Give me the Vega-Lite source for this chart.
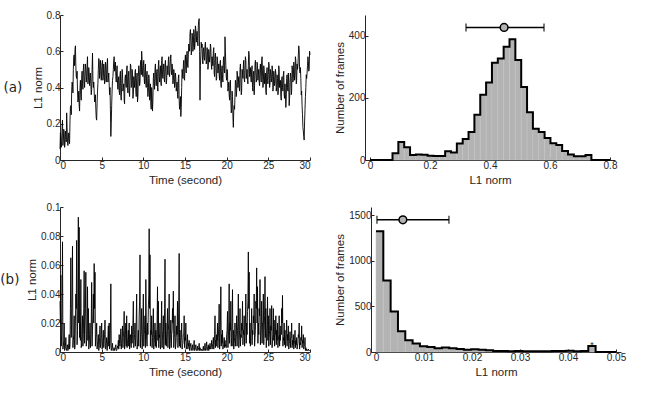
{
"$schema": "https://vega.github.io/schema/vega-lite/v6.json",
"usermeta": {"embedOptions": {"actions": false}},
"background": "white",
"padding": {"left": 0, "top": 10, "right": 5, "bottom": 0},
"config": {
  "view": {"stroke": null},
  "axis": {"labelFont": "Liberation Sans", "labelFontSize": 10, "labelColor": "#262626", "titleFont": "Liberation Sans", "titleFontSize": 11.5, "titleFontWeight": "normal", "titleColor": "#262626", "domainColor": "#262626", "tickColor": "#262626", "tickSize": -3, "labelPadding": 3, "grid": false},
  "axisX": {"titlePadding": 4},
  "axisY": {"titlePadding": 3}
},
"datasets": {
  "tsA": [
{"t":0.0,"v":0.06},{"t":0.1,"v":0.12},{"t":0.2,"v":0.10},{"t":0.3,"v":0.22},{"t":0.4,"v":0.11},{"t":0.5,"v":0.15},{"t":0.6,"v":0.09},{"t":0.7,"v":0.13},{"t":0.8,"v":0.26},{"t":0.9,"v":0.10},
{"t":1.0,"v":0.12},{"t":1.1,"v":0.10},{"t":1.2,"v":0.22},{"t":1.3,"v":0.30},{"t":1.4,"v":0.38},{"t":1.5,"v":0.42},{"t":1.6,"v":0.50},{"t":1.7,"v":0.58},{"t":1.8,"v":0.61},{"t":1.9,"v":0.52},
{"t":2.0,"v":0.45},{"t":2.1,"v":0.38},{"t":2.2,"v":0.33},{"t":2.3,"v":0.30},{"t":2.4,"v":0.40},{"t":2.5,"v":0.36},{"t":2.6,"v":0.45},{"t":2.7,"v":0.42},{"t":2.8,"v":0.50},{"t":2.9,"v":0.44},
{"t":3.0,"v":0.47},{"t":3.1,"v":0.50},{"t":3.2,"v":0.46},{"t":3.3,"v":0.57},{"t":3.4,"v":0.44},{"t":3.5,"v":0.48},{"t":3.6,"v":0.45},{"t":3.7,"v":0.42},{"t":3.8,"v":0.39},{"t":3.9,"v":0.59},
{"t":4.0,"v":0.40},{"t":4.1,"v":0.38},{"t":4.2,"v":0.33},{"t":4.3,"v":0.28},{"t":4.4,"v":0.22},{"t":4.5,"v":0.38},{"t":4.6,"v":0.50},{"t":4.7,"v":0.55},{"t":4.8,"v":0.47},{"t":4.9,"v":0.52},
{"t":5.0,"v":0.48},{"t":5.1,"v":0.55},{"t":5.2,"v":0.46},{"t":5.3,"v":0.50},{"t":5.4,"v":0.44},{"t":5.5,"v":0.52},{"t":5.6,"v":0.47},{"t":5.7,"v":0.56},{"t":5.8,"v":0.45},{"t":5.9,"v":0.42},
{"t":6.0,"v":0.40},{"t":6.1,"v":0.13},{"t":6.2,"v":0.30},{"t":6.3,"v":0.44},{"t":6.4,"v":0.50},{"t":6.5,"v":0.57},{"t":6.6,"v":0.51},{"t":6.7,"v":0.46},{"t":6.8,"v":0.49},{"t":6.9,"v":0.42},
{"t":7.0,"v":0.44},{"t":7.1,"v":0.38},{"t":7.2,"v":0.47},{"t":7.3,"v":0.35},{"t":7.4,"v":0.42},{"t":7.5,"v":0.48},{"t":7.6,"v":0.40},{"t":7.7,"v":0.33},{"t":7.8,"v":0.45},{"t":7.9,"v":0.42},
{"t":8.0,"v":0.50},{"t":8.1,"v":0.40},{"t":8.2,"v":0.46},{"t":8.3,"v":0.38},{"t":8.4,"v":0.44},{"t":8.5,"v":0.52},{"t":8.6,"v":0.41},{"t":8.7,"v":0.47},{"t":8.8,"v":0.36},{"t":8.9,"v":0.43},
{"t":9.0,"v":0.48},{"t":9.1,"v":0.38},{"t":9.2,"v":0.45},{"t":9.3,"v":0.32},{"t":9.4,"v":0.46},{"t":9.5,"v":0.50},{"t":9.6,"v":0.43},{"t":9.7,"v":0.55},{"t":9.8,"v":0.60},{"t":9.9,"v":0.48},
{"t":10.0,"v":0.52},{"t":10.1,"v":0.45},{"t":10.2,"v":0.50},{"t":10.3,"v":0.42},{"t":10.4,"v":0.47},{"t":10.5,"v":0.40},{"t":10.6,"v":0.38},{"t":10.7,"v":0.45},{"t":10.8,"v":0.35},{"t":10.9,"v":0.30},
{"t":11.0,"v":0.40},{"t":11.1,"v":0.27},{"t":11.2,"v":0.45},{"t":11.3,"v":0.42},{"t":11.4,"v":0.50},{"t":11.5,"v":0.44},{"t":11.6,"v":0.48},{"t":11.7,"v":0.40},{"t":11.8,"v":0.52},{"t":11.9,"v":0.46},
{"t":12.0,"v":0.49},{"t":12.1,"v":0.43},{"t":12.2,"v":0.55},{"t":12.3,"v":0.47},{"t":12.4,"v":0.50},{"t":12.5,"v":0.45},{"t":12.6,"v":0.52},{"t":12.7,"v":0.48},{"t":12.8,"v":0.44},{"t":12.9,"v":0.50},
{"t":13.0,"v":0.55},{"t":13.1,"v":0.48},{"t":13.2,"v":0.52},{"t":13.3,"v":0.58},{"t":13.4,"v":0.47},{"t":13.5,"v":0.50},{"t":13.6,"v":0.44},{"t":13.7,"v":0.48},{"t":13.8,"v":0.42},{"t":13.9,"v":0.45},
{"t":14.0,"v":0.40},{"t":14.1,"v":0.36},{"t":14.2,"v":0.45},{"t":14.3,"v":0.33},{"t":14.4,"v":0.30},{"t":14.5,"v":0.24},{"t":14.6,"v":0.40},{"t":14.7,"v":0.48},{"t":14.8,"v":0.52},{"t":14.9,"v":0.45},
{"t":15.0,"v":0.55},{"t":15.1,"v":0.50},{"t":15.2,"v":0.57},{"t":15.3,"v":0.53},{"t":15.4,"v":0.58},{"t":15.5,"v":0.62},{"t":15.6,"v":0.70},{"t":15.7,"v":0.66},{"t":15.8,"v":0.60},{"t":15.9,"v":0.68},
{"t":16.0,"v":0.62},{"t":16.1,"v":0.70},{"t":16.2,"v":0.64},{"t":16.3,"v":0.72},{"t":16.4,"v":0.68},{"t":16.5,"v":0.66},{"t":16.6,"v":0.74},{"t":16.7,"v":0.78},{"t":16.8,"v":0.33},{"t":16.9,"v":0.58},
{"t":17.0,"v":0.62},{"t":17.1,"v":0.55},{"t":17.2,"v":0.60},{"t":17.3,"v":0.57},{"t":17.4,"v":0.63},{"t":17.5,"v":0.58},{"t":17.6,"v":0.55},{"t":17.7,"v":0.60},{"t":17.8,"v":0.52},{"t":17.9,"v":0.58},
{"t":18.0,"v":0.57},{"t":18.1,"v":0.62},{"t":18.2,"v":0.50},{"t":18.3,"v":0.55},{"t":18.4,"v":0.60},{"t":18.5,"v":0.48},{"t":18.6,"v":0.57},{"t":18.7,"v":0.52},{"t":18.8,"v":0.45},{"t":18.9,"v":0.55},
{"t":19.0,"v":0.50},{"t":19.1,"v":0.47},{"t":19.2,"v":0.53},{"t":19.3,"v":0.42},{"t":19.4,"v":0.49},{"t":19.5,"v":0.45},{"t":19.6,"v":0.55},{"t":19.7,"v":0.50},{"t":19.8,"v":0.68},{"t":19.9,"v":0.52},
{"t":20.0,"v":0.44},{"t":20.1,"v":0.48},{"t":20.2,"v":0.40},{"t":20.3,"v":0.36},{"t":20.4,"v":0.42},{"t":20.5,"v":0.33},{"t":20.6,"v":0.28},{"t":20.7,"v":0.35},{"t":20.8,"v":0.18},{"t":20.9,"v":0.30},
{"t":21.0,"v":0.36},{"t":21.1,"v":0.42},{"t":21.2,"v":0.38},{"t":21.3,"v":0.47},{"t":21.4,"v":0.43},{"t":21.5,"v":0.40},{"t":21.6,"v":0.50},{"t":21.7,"v":0.45},{"t":21.8,"v":0.38},{"t":21.9,"v":0.48},
{"t":22.0,"v":0.52},{"t":22.1,"v":0.45},{"t":22.2,"v":0.50},{"t":22.3,"v":0.55},{"t":22.4,"v":0.47},{"t":22.5,"v":0.44},{"t":22.6,"v":0.52},{"t":22.7,"v":0.58},{"t":22.8,"v":0.48},{"t":22.9,"v":0.45},
{"t":23.0,"v":0.50},{"t":23.1,"v":0.40},{"t":23.2,"v":0.47},{"t":23.3,"v":0.36},{"t":23.4,"v":0.53},{"t":23.5,"v":0.48},{"t":23.6,"v":0.45},{"t":23.7,"v":0.52},{"t":23.8,"v":0.47},{"t":23.9,"v":0.43},
{"t":24.0,"v":0.50},{"t":24.1,"v":0.46},{"t":24.2,"v":0.55},{"t":24.3,"v":0.48},{"t":24.4,"v":0.42},{"t":24.5,"v":0.50},{"t":24.6,"v":0.45},{"t":24.7,"v":0.38},{"t":24.8,"v":0.48},{"t":24.9,"v":0.44},
{"t":25.0,"v":0.47},{"t":25.1,"v":0.52},{"t":25.2,"v":0.42},{"t":25.3,"v":0.48},{"t":25.4,"v":0.45},{"t":25.5,"v":0.50},{"t":25.6,"v":0.40},{"t":25.7,"v":0.46},{"t":25.8,"v":0.43},{"t":25.9,"v":0.48},
{"t":26.0,"v":0.40},{"t":26.1,"v":0.45},{"t":26.2,"v":0.38},{"t":26.3,"v":0.50},{"t":26.4,"v":0.42},{"t":26.5,"v":0.35},{"t":26.6,"v":0.44},{"t":26.7,"v":0.40},{"t":26.8,"v":0.47},{"t":26.9,"v":0.36},
{"t":27.0,"v":0.42},{"t":27.1,"v":0.29},{"t":27.2,"v":0.45},{"t":27.3,"v":0.40},{"t":27.4,"v":0.48},{"t":27.5,"v":0.30},{"t":27.6,"v":0.43},{"t":27.7,"v":0.46},{"t":27.8,"v":0.38},{"t":27.9,"v":0.50},
{"t":28.0,"v":0.45},{"t":28.1,"v":0.52},{"t":28.2,"v":0.47},{"t":28.3,"v":0.55},{"t":28.4,"v":0.44},{"t":28.5,"v":0.50},{"t":28.6,"v":0.58},{"t":28.7,"v":0.61},{"t":28.8,"v":0.48},{"t":28.9,"v":0.45},
{"t":29.0,"v":0.38},{"t":29.1,"v":0.25},{"t":29.2,"v":0.16},{"t":29.3,"v":0.11},{"t":29.4,"v":0.28},{"t":29.5,"v":0.40},{"t":29.6,"v":0.45},{"t":29.7,"v":0.52},{"t":29.8,"v":0.55},{"t":29.9,"v":0.50},
{"t":30.0,"v":0.58},
{"t":0.05,"v":0.15},{"t":0.15,"v":0.07},{"t":0.25,"v":0.18},{"t":0.35,"v":0.08},{"t":0.45,"v":0.17},{"t":0.55,"v":0.07},{"t":0.65,"v":0.16},{"t":0.75,"v":0.10},{"t":0.85,"v":0.18},{"t":0.95,"v":0.08},
{"t":1.05,"v":0.15},{"t":1.15,"v":0.09},{"t":1.25,"v":0.29},{"t":1.35,"v":0.25},{"t":1.45,"v":0.43},{"t":1.55,"v":0.37},{"t":1.65,"v":0.57},{"t":1.75,"v":0.52},{"t":1.85,"v":0.63},{"t":1.95,"v":0.46},
{"t":2.05,"v":0.49},{"t":2.15,"v":0.32},{"t":2.25,"v":0.38},{"t":2.35,"v":0.27},{"t":2.45,"v":0.44},{"t":2.55,"v":0.33},{"t":2.65,"v":0.49},{"t":2.75,"v":0.39},{"t":2.85,"v":0.53},{"t":2.95,"v":0.40},
{"t":3.05,"v":0.53},{"t":3.15,"v":0.43},{"t":3.25,"v":0.52},{"t":3.35,"v":0.42},{"t":3.45,"v":0.51},{"t":3.55,"v":0.41},{"t":3.65,"v":0.48},{"t":3.75,"v":0.36},{"t":3.85,"v":0.50},{"t":3.95,"v":0.44},
{"t":4.05,"v":0.43},{"t":4.15,"v":0.32},{"t":4.25,"v":0.36},{"t":4.35,"v":0.23},{"t":4.45,"v":0.31},{"t":4.55,"v":0.42},{"t":4.65,"v":0.56},{"t":4.75,"v":0.45},{"t":4.85,"v":0.55},{"t":4.95,"v":0.44},
{"t":5.05,"v":0.53},{"t":5.15,"v":0.44},{"t":5.25,"v":0.53},{"t":5.35,"v":0.42},{"t":5.45,"v":0.54},{"t":5.55,"v":0.43},{"t":5.65,"v":0.53},{"t":5.75,"v":0.43},{"t":5.85,"v":0.48},{"t":5.95,"v":0.36},
{"t":6.05,"v":0.28},{"t":6.15,"v":0.20},{"t":6.25,"v":0.38},{"t":6.35,"v":0.46},{"t":6.45,"v":0.55},{"t":6.55,"v":0.49},{"t":6.65,"v":0.54},{"t":6.75,"v":0.43},{"t":6.85,"v":0.52},{"t":6.95,"v":0.39},
{"t":7.05,"v":0.46},{"t":7.15,"v":0.36},{"t":7.25,"v":0.49},{"t":7.35,"v":0.33},{"t":7.45,"v":0.50},{"t":7.55,"v":0.38},{"t":7.65,"v":0.42},{"t":7.75,"v":0.31},{"t":7.85,"v":0.47},{"t":7.95,"v":0.40},
{"t":8.05,"v":0.52},{"t":8.15,"v":0.37},{"t":8.25,"v":0.49},{"t":8.35,"v":0.35},{"t":8.45,"v":0.53},{"t":8.55,"v":0.40},{"t":8.65,"v":0.50},{"t":8.75,"v":0.34},{"t":8.85,"v":0.46},{"t":8.95,"v":0.40},
{"t":9.05,"v":0.50},{"t":9.15,"v":0.35},{"t":9.25,"v":0.48},{"t":9.35,"v":0.35},{"t":9.45,"v":0.52},{"t":9.55,"v":0.41},{"t":9.65,"v":0.53},{"t":9.75,"v":0.47},{"t":9.85,"v":0.55},{"t":9.95,"v":0.46},
{"t":10.05,"v":0.55},{"t":10.15,"v":0.42},{"t":10.25,"v":0.53},{"t":10.35,"v":0.40},{"t":10.45,"v":0.49},{"t":10.55,"v":0.35},{"t":10.65,"v":0.47},{"t":10.75,"v":0.33},{"t":10.85,"v":0.42},{"t":10.95,"v":0.28},
{"t":11.05,"v":0.35},{"t":11.15,"v":0.33},{"t":11.25,"v":0.48},{"t":11.35,"v":0.39},{"t":11.45,"v":0.53},{"t":11.55,"v":0.41},{"t":11.65,"v":0.50},{"t":11.75,"v":0.38},{"t":11.85,"v":0.55},{"t":11.95,"v":0.43},
{"t":12.05,"v":0.52},{"t":12.15,"v":0.41},{"t":12.25,"v":0.57},{"t":12.35,"v":0.45},{"t":12.45,"v":0.53},{"t":12.55,"v":0.43},{"t":12.65,"v":0.55},{"t":12.75,"v":0.42},{"t":12.85,"v":0.52},{"t":12.95,"v":0.47},
{"t":13.05,"v":0.57},{"t":13.15,"v":0.46},{"t":13.25,"v":0.56},{"t":13.35,"v":0.49},{"t":13.45,"v":0.53},{"t":13.55,"v":0.42},{"t":13.65,"v":0.50},{"t":13.75,"v":0.40},{"t":13.85,"v":0.48},{"t":13.95,"v":0.38},
{"t":14.05,"v":0.43},{"t":14.15,"v":0.34},{"t":14.25,"v":0.47},{"t":14.35,"v":0.28},{"t":14.45,"v":0.35},{"t":14.55,"v":0.29},{"t":14.65,"v":0.50},{"t":14.75,"v":0.45},{"t":14.85,"v":0.55},{"t":14.95,"v":0.44},
{"t":15.05,"v":0.58},{"t":15.15,"v":0.48},{"t":15.25,"v":0.60},{"t":15.35,"v":0.51},{"t":15.45,"v":0.64},{"t":15.55,"v":0.60},{"t":15.65,"v":0.72},{"t":15.75,"v":0.58},{"t":15.85,"v":0.70},{"t":15.95,"v":0.60},
{"t":16.05,"v":0.72},{"t":16.15,"v":0.61},{"t":16.25,"v":0.74},{"t":16.35,"v":0.65},{"t":16.45,"v":0.71},{"t":16.55,"v":0.63},{"t":16.65,"v":0.77},{"t":16.75,"v":0.60},{"t":16.85,"v":0.52},{"t":16.95,"v":0.65},
{"t":17.05,"v":0.64},{"t":17.15,"v":0.53},{"t":17.25,"v":0.62},{"t":17.35,"v":0.55},{"t":17.45,"v":0.65},{"t":17.55,"v":0.53},{"t":17.65,"v":0.62},{"t":17.75,"v":0.50},{"t":17.85,"v":0.61},{"t":17.95,"v":0.54},
{"t":18.05,"v":0.64},{"t":18.15,"v":0.53},{"t":18.25,"v":0.57},{"t":18.35,"v":0.52},{"t":18.45,"v":0.62},{"t":18.55,"v":0.46},{"t":18.65,"v":0.59},{"t":18.75,"v":0.44},{"t":18.85,"v":0.57},{"t":18.95,"v":0.48},
{"t":19.05,"v":0.53},{"t":19.15,"v":0.44},{"t":19.25,"v":0.55},{"t":19.35,"v":0.40},{"t":19.45,"v":0.52},{"t":19.55,"v":0.43},{"t":19.65,"v":0.57},{"t":19.75,"v":0.48},{"t":19.85,"v":0.60},{"t":19.95,"v":0.46},
{"t":20.05,"v":0.50},{"t":20.15,"v":0.38},{"t":20.25,"v":0.43},{"t":20.35,"v":0.33},{"t":20.45,"v":0.44},{"t":20.55,"v":0.26},{"t":20.65,"v":0.38},{"t":20.75,"v":0.24},{"t":20.85,"v":0.27},{"t":20.95,"v":0.28},
{"t":21.05,"v":0.44},{"t":21.15,"v":0.35},{"t":21.25,"v":0.49},{"t":21.35,"v":0.40},{"t":21.45,"v":0.46},{"t":21.55,"v":0.38},{"t":21.65,"v":0.53},{"t":21.75,"v":0.36},{"t":21.85,"v":0.50},{"t":21.95,"v":0.45},
{"t":22.05,"v":0.55},{"t":22.15,"v":0.43},{"t":22.25,"v":0.57},{"t":22.35,"v":0.45},{"t":22.45,"v":0.50},{"t":22.55,"v":0.42},{"t":22.65,"v":0.60},{"t":22.75,"v":0.46},{"t":22.85,"v":0.51},{"t":22.95,"v":0.43},
{"t":23.05,"v":0.52},{"t":23.15,"v":0.38},{"t":23.25,"v":0.49},{"t":23.35,"v":0.41},{"t":23.45,"v":0.55},{"t":23.55,"v":0.43},{"t":23.65,"v":0.54},{"t":23.75,"v":0.44},{"t":23.85,"v":0.50},{"t":23.95,"v":0.41},
{"t":24.05,"v":0.53},{"t":24.15,"v":0.43},{"t":24.25,"v":0.57},{"t":24.35,"v":0.40},{"t":24.45,"v":0.52},{"t":24.55,"v":0.42},{"t":24.65,"v":0.48},{"t":24.75,"v":0.36},{"t":24.85,"v":0.51},{"t":24.95,"v":0.42},
{"t":25.05,"v":0.54},{"t":25.15,"v":0.40},{"t":25.25,"v":0.50},{"t":25.35,"v":0.43},{"t":25.45,"v":0.52},{"t":25.55,"v":0.38},{"t":25.65,"v":0.49},{"t":25.75,"v":0.41},{"t":25.85,"v":0.50},{"t":25.95,"v":0.38},
{"t":26.05,"v":0.47},{"t":26.15,"v":0.36},{"t":26.25,"v":0.52},{"t":26.35,"v":0.40},{"t":26.45,"v":0.44},{"t":26.55,"v":0.33},{"t":26.65,"v":0.46},{"t":26.75,"v":0.38},{"t":26.85,"v":0.49},{"t":26.95,"v":0.34},
{"t":27.05,"v":0.36},{"t":27.15,"v":0.34},{"t":27.25,"v":0.47},{"t":27.35,"v":0.38},{"t":27.45,"v":0.42},{"t":27.55,"v":0.34},{"t":27.65,"v":0.48},{"t":27.75,"v":0.36},{"t":27.85,"v":0.52},{"t":27.95,"v":0.43},
{"t":28.05,"v":0.54},{"t":28.15,"v":0.44},{"t":28.25,"v":0.57},{"t":28.35,"v":0.42},{"t":28.45,"v":0.53},{"t":28.55,"v":0.52},{"t":28.65,"v":0.63},{"t":28.75,"v":0.50},{"t":28.85,"v":0.51},{"t":28.95,"v":0.36},
{"t":29.05,"v":0.30},{"t":29.15,"v":0.18},{"t":29.25,"v":0.13},{"t":29.35,"v":0.21},{"t":29.45,"v":0.35},{"t":29.55,"v":0.47},{"t":29.65,"v":0.48},{"t":29.75,"v":0.57},{"t":29.85,"v":0.49},{"t":29.95,"v":0.60}
  ],
  "tsB": [
{"t":0.0,"v":0.035},{"t":0.1,"v":0.053},{"t":0.2,"v":0.012},{"t":0.3,"v":0.076},{"t":0.4,"v":0.004},{"t":0.5,"v":0.02},{"t":0.6,"v":0.002},{"t":0.7,"v":0.01},{"t":0.8,"v":0.001},{"t":0.9,"v":0.005},
{"t":1.0,"v":0.002},{"t":1.1,"v":0.012},{"t":1.2,"v":0.004},{"t":1.3,"v":0.065},{"t":1.4,"v":0.02},{"t":1.5,"v":0.073},{"t":1.6,"v":0.008},{"t":1.7,"v":0.025},{"t":1.8,"v":0.003},{"t":1.9,"v":0.04},
{"t":2.0,"v":0.077},{"t":2.1,"v":0.015},{"t":2.2,"v":0.093},{"t":2.3,"v":0.086},{"t":2.4,"v":0.02},{"t":2.5,"v":0.05},{"t":2.6,"v":0.006},{"t":2.7,"v":0.025},{"t":2.8,"v":0.012},{"t":2.9,"v":0.056},
{"t":3.0,"v":0.02},{"t":3.1,"v":0.055},{"t":3.2,"v":0.008},{"t":3.3,"v":0.045},{"t":3.4,"v":0.03},{"t":3.5,"v":0.005},{"t":3.6,"v":0.02},{"t":3.7,"v":0.01},{"t":3.8,"v":0.048},{"t":3.9,"v":0.015},
{"t":4.0,"v":0.04},{"t":4.1,"v":0.061},{"t":4.2,"v":0.055},{"t":4.3,"v":0.01},{"t":4.4,"v":0.02},{"t":4.5,"v":0.005},{"t":4.6,"v":0.012},{"t":4.7,"v":0.003},{"t":4.8,"v":0.018},{"t":4.9,"v":0.006},
{"t":5.0,"v":0.02},{"t":5.1,"v":0.004},{"t":5.2,"v":0.015},{"t":5.3,"v":0.008},{"t":5.4,"v":0.022},{"t":5.5,"v":0.003},{"t":5.6,"v":0.01},{"t":5.7,"v":0.005},{"t":5.8,"v":0.018},{"t":5.9,"v":0.02},
{"t":6.0,"v":0.004},{"t":6.1,"v":0.047},{"t":6.2,"v":0.002},{"t":6.3,"v":0.006},{"t":6.4,"v":0.001},{"t":6.5,"v":0.003},{"t":6.6,"v":0.002},{"t":6.7,"v":0.005},{"t":6.8,"v":0.001},{"t":6.9,"v":0.004},
{"t":7.0,"v":0.008},{"t":7.1,"v":0.012},{"t":7.2,"v":0.004},{"t":7.3,"v":0.016},{"t":7.4,"v":0.006},{"t":7.5,"v":0.018},{"t":7.6,"v":0.01},{"t":7.7,"v":0.028},{"t":7.8,"v":0.005},{"t":7.9,"v":0.02},
{"t":8.0,"v":0.025},{"t":8.1,"v":0.006},{"t":8.2,"v":0.015},{"t":8.3,"v":0.02},{"t":8.4,"v":0.01},{"t":8.5,"v":0.005},{"t":8.6,"v":0.018},{"t":8.7,"v":0.012},{"t":8.8,"v":0.035},{"t":8.9,"v":0.008},
{"t":9.0,"v":0.02},{"t":9.1,"v":0.01},{"t":9.2,"v":0.04},{"t":9.3,"v":0.004},{"t":9.4,"v":0.015},{"t":9.5,"v":0.025},{"t":9.6,"v":0.067},{"t":9.7,"v":0.01},{"t":9.8,"v":0.03},{"t":9.9,"v":0.006},
{"t":10.0,"v":0.04},{"t":10.1,"v":0.012},{"t":10.2,"v":0.025},{"t":10.3,"v":0.05},{"t":10.4,"v":0.008},{"t":10.5,"v":0.02},{"t":10.6,"v":0.03},{"t":10.7,"v":0.085},{"t":10.8,"v":0.067},{"t":10.9,"v":0.015},
{"t":11.0,"v":0.025},{"t":11.1,"v":0.01},{"t":11.2,"v":0.03},{"t":11.3,"v":0.006},{"t":11.4,"v":0.02},{"t":11.5,"v":0.015},{"t":11.6,"v":0.008},{"t":11.7,"v":0.045},{"t":11.8,"v":0.035},{"t":11.9,"v":0.012},
{"t":12.0,"v":0.02},{"t":12.1,"v":0.005},{"t":12.2,"v":0.035},{"t":12.3,"v":0.012},{"t":12.4,"v":0.025},{"t":12.5,"v":0.008},{"t":12.6,"v":0.064},{"t":12.7,"v":0.02},{"t":12.8,"v":0.01},{"t":12.9,"v":0.03},
{"t":13.0,"v":0.015},{"t":13.1,"v":0.04},{"t":13.2,"v":0.006},{"t":13.3,"v":0.022},{"t":13.4,"v":0.012},{"t":13.5,"v":0.03},{"t":13.6,"v":0.042},{"t":13.7,"v":0.01},{"t":13.8,"v":0.025},{"t":13.9,"v":0.005},
{"t":14.0,"v":0.018},{"t":14.1,"v":0.035},{"t":14.2,"v":0.01},{"t":14.3,"v":0.068},{"t":14.4,"v":0.015},{"t":14.5,"v":0.008},{"t":14.6,"v":0.02},{"t":14.7,"v":0.005},{"t":14.8,"v":0.012},{"t":14.9,"v":0.025},
{"t":15.0,"v":0.01},{"t":15.1,"v":0.02},{"t":15.2,"v":0.004},{"t":15.3,"v":0.012},{"t":15.4,"v":0.006},{"t":15.5,"v":0.008},{"t":15.6,"v":0.003},{"t":15.7,"v":0.006},{"t":15.8,"v":0.002},{"t":15.9,"v":0.005},
{"t":16.0,"v":0.003},{"t":16.1,"v":0.008},{"t":16.2,"v":0.002},{"t":16.3,"v":0.005},{"t":16.4,"v":0.001},{"t":16.5,"v":0.004},{"t":16.6,"v":0.002},{"t":16.7,"v":0.006},{"t":16.8,"v":0.003},{"t":16.9,"v":0.001},
{"t":17.0,"v":0.002},{"t":17.1,"v":0.001},{"t":17.2,"v":0.004},{"t":17.3,"v":0.001},{"t":17.4,"v":0.006},{"t":17.5,"v":0.002},{"t":17.6,"v":0.007},{"t":17.7,"v":0.003},{"t":17.8,"v":0.005},{"t":17.9,"v":0.004},
{"t":18.0,"v":0.006},{"t":18.1,"v":0.003},{"t":18.2,"v":0.008},{"t":18.3,"v":0.004},{"t":18.4,"v":0.01},{"t":18.5,"v":0.005},{"t":18.6,"v":0.025},{"t":18.7,"v":0.008},{"t":18.8,"v":0.012},{"t":18.9,"v":0.02},
{"t":19.0,"v":0.01},{"t":19.1,"v":0.033},{"t":19.2,"v":0.006},{"t":19.3,"v":0.045},{"t":19.4,"v":0.012},{"t":19.5,"v":0.015},{"t":19.6,"v":0.004},{"t":19.7,"v":0.01},{"t":19.8,"v":0.008},{"t":19.9,"v":0.005},
{"t":20.0,"v":0.012},{"t":20.1,"v":0.028},{"t":20.2,"v":0.008},{"t":20.3,"v":0.047},{"t":20.4,"v":0.02},{"t":20.5,"v":0.035},{"t":20.6,"v":0.01},{"t":20.7,"v":0.043},{"t":20.8,"v":0.015},{"t":20.9,"v":0.006},
{"t":21.0,"v":0.02},{"t":21.1,"v":0.01},{"t":21.2,"v":0.025},{"t":21.3,"v":0.015},{"t":21.4,"v":0.04},{"t":21.5,"v":0.008},{"t":21.6,"v":0.03},{"t":21.7,"v":0.012},{"t":21.8,"v":0.02},{"t":21.9,"v":0.035},
{"t":22.0,"v":0.015},{"t":22.1,"v":0.025},{"t":22.2,"v":0.01},{"t":22.3,"v":0.04},{"t":22.4,"v":0.02},{"t":22.5,"v":0.028},{"t":22.6,"v":0.069},{"t":22.7,"v":0.055},{"t":22.8,"v":0.02},{"t":22.9,"v":0.012},
{"t":23.0,"v":0.03},{"t":23.1,"v":0.015},{"t":23.2,"v":0.025},{"t":23.3,"v":0.04},{"t":23.4,"v":0.01},{"t":23.5,"v":0.035},{"t":23.6,"v":0.058},{"t":23.7,"v":0.045},{"t":23.8,"v":0.02},{"t":23.9,"v":0.03},
{"t":24.0,"v":0.05},{"t":24.1,"v":0.012},{"t":24.2,"v":0.035},{"t":24.3,"v":0.02},{"t":24.4,"v":0.04},{"t":24.5,"v":0.015},{"t":24.6,"v":0.052},{"t":24.7,"v":0.03},{"t":24.8,"v":0.01},{"t":24.9,"v":0.038},
{"t":25.0,"v":0.025},{"t":25.1,"v":0.01},{"t":25.2,"v":0.03},{"t":25.3,"v":0.018},{"t":25.4,"v":0.032},{"t":25.5,"v":0.008},{"t":25.6,"v":0.03},{"t":25.7,"v":0.022},{"t":25.8,"v":0.012},{"t":25.9,"v":0.025},
{"t":26.0,"v":0.015},{"t":26.1,"v":0.02},{"t":26.2,"v":0.008},{"t":26.3,"v":0.025},{"t":26.4,"v":0.012},{"t":26.5,"v":0.018},{"t":26.6,"v":0.03},{"t":26.7,"v":0.039},{"t":26.8,"v":0.01},{"t":26.9,"v":0.02},
{"t":27.0,"v":0.015},{"t":27.1,"v":0.008},{"t":27.2,"v":0.022},{"t":27.3,"v":0.012},{"t":27.4,"v":0.018},{"t":27.5,"v":0.006},{"t":27.6,"v":0.014},{"t":27.7,"v":0.01},{"t":27.8,"v":0.02},{"t":27.9,"v":0.008},
{"t":28.0,"v":0.012},{"t":28.1,"v":0.005},{"t":28.2,"v":0.015},{"t":28.3,"v":0.008},{"t":28.4,"v":0.01},{"t":28.5,"v":0.004},{"t":28.6,"v":0.012},{"t":28.7,"v":0.02},{"t":28.8,"v":0.006},{"t":28.9,"v":0.01},
{"t":29.0,"v":0.018},{"t":29.1,"v":0.008},{"t":29.2,"v":0.012},{"t":29.3,"v":0.004},{"t":29.4,"v":0.01},{"t":29.5,"v":0.003},{"t":29.6,"v":0.002},{"t":29.7,"v":0.001},{"t":29.8,"v":0.002},{"t":29.9,"v":0.001},
{"t":30.0,"v":0.001},
{"t":0.05,"v":0.02},{"t":0.15,"v":0.004},{"t":0.25,"v":0.03},{"t":0.35,"v":0.002},{"t":0.45,"v":0.008},{"t":0.55,"v":0.001},{"t":0.65,"v":0.004},{"t":0.75,"v":0.002},{"t":0.85,"v":0.003},{"t":0.95,"v":0.001},
{"t":1.05,"v":0.006},{"t":1.15,"v":0.002},{"t":1.25,"v":0.03},{"t":1.35,"v":0.01},{"t":1.45,"v":0.04},{"t":1.55,"v":0.003},{"t":1.65,"v":0.012},{"t":1.75,"v":0.002},{"t":1.85,"v":0.02},{"t":1.95,"v":0.03},
{"t":2.05,"v":0.005},{"t":2.15,"v":0.04},{"t":2.25,"v":0.02},{"t":2.35,"v":0.01},{"t":2.45,"v":0.008},{"t":2.55,"v":0.003},{"t":2.65,"v":0.012},{"t":2.75,"v":0.004},{"t":2.85,"v":0.03},{"t":2.95,"v":0.006},
{"t":3.05,"v":0.03},{"t":3.15,"v":0.004},{"t":3.25,"v":0.02},{"t":3.35,"v":0.008},{"t":3.45,"v":0.002},{"t":3.55,"v":0.012},{"t":3.65,"v":0.003},{"t":3.75,"v":0.02},{"t":3.85,"v":0.004},{"t":3.95,"v":0.025},
{"t":4.05,"v":0.02},{"t":4.15,"v":0.03},{"t":4.25,"v":0.004},{"t":4.35,"v":0.012},{"t":4.45,"v":0.002},{"t":4.55,"v":0.008},{"t":4.65,"v":0.001},{"t":4.75,"v":0.01},{"t":4.85,"v":0.003},{"t":4.95,"v":0.012},
{"t":5.05,"v":0.002},{"t":5.15,"v":0.01},{"t":5.25,"v":0.003},{"t":5.35,"v":0.012},{"t":5.45,"v":0.002},{"t":5.55,"v":0.006},{"t":5.65,"v":0.001},{"t":5.75,"v":0.01},{"t":5.85,"v":0.004},{"t":5.95,"v":0.002},
{"t":6.05,"v":0.015},{"t":6.15,"v":0.001},{"t":6.25,"v":0.003},{"t":6.35,"v":0.001},{"t":6.45,"v":0.002},{"t":6.55,"v":0.001},{"t":6.65,"v":0.003},{"t":6.75,"v":0.001},{"t":6.85,"v":0.002},{"t":6.95,"v":0.003},
{"t":7.05,"v":0.002},{"t":7.15,"v":0.006},{"t":7.25,"v":0.009},{"t":7.35,"v":0.002},{"t":7.45,"v":0.011},{"t":7.55,"v":0.003},{"t":7.65,"v":0.015},{"t":7.75,"v":0.002},{"t":7.85,"v":0.012},{"t":7.95,"v":0.004},
{"t":8.05,"v":0.003},{"t":8.15,"v":0.01},{"t":8.25,"v":0.004},{"t":8.35,"v":0.002},{"t":8.45,"v":0.012},{"t":8.55,"v":0.003},{"t":8.65,"v":0.006},{"t":8.75,"v":0.02},{"t":8.85,"v":0.003},{"t":8.95,"v":0.012},
{"t":9.05,"v":0.004},{"t":9.15,"v":0.022},{"t":9.25,"v":0.002},{"t":9.35,"v":0.009},{"t":9.45,"v":0.004},{"t":9.55,"v":0.035},{"t":9.65,"v":0.003},{"t":9.75,"v":0.015},{"t":9.85,"v":0.002},{"t":9.95,"v":0.02},
{"t":10.05,"v":0.004},{"t":10.15,"v":0.015},{"t":10.25,"v":0.003},{"t":10.35,"v":0.02},{"t":10.45,"v":0.004},{"t":10.55,"v":0.012},{"t":10.65,"v":0.04},{"t":10.75,"v":0.03},{"t":10.85,"v":0.004},{"t":10.95,"v":0.012},
{"t":11.05,"v":0.003},{"t":11.15,"v":0.015},{"t":11.25,"v":0.002},{"t":11.35,"v":0.012},{"t":11.45,"v":0.004},{"t":11.55,"v":0.003},{"t":11.65,"v":0.02},{"t":11.75,"v":0.008},{"t":11.85,"v":0.003},{"t":11.95,"v":0.01},
{"t":12.05,"v":0.002},{"t":12.15,"v":0.018},{"t":12.25,"v":0.003},{"t":12.35,"v":0.015},{"t":12.45,"v":0.002},{"t":12.55,"v":0.03},{"t":12.65,"v":0.005},{"t":12.75,"v":0.004},{"t":12.85,"v":0.015},{"t":12.95,"v":0.003},
{"t":13.05,"v":0.02},{"t":13.15,"v":0.002},{"t":13.25,"v":0.012},{"t":13.35,"v":0.003},{"t":13.45,"v":0.015},{"t":13.55,"v":0.02},{"t":13.65,"v":0.003},{"t":13.75,"v":0.012},{"t":13.85,"v":0.002},{"t":13.95,"v":0.01},
{"t":14.05,"v":0.012},{"t":14.15,"v":0.003},{"t":14.25,"v":0.035},{"t":14.35,"v":0.004},{"t":14.45,"v":0.003},{"t":14.55,"v":0.01},{"t":14.65,"v":0.002},{"t":14.75,"v":0.006},{"t":14.85,"v":0.012},{"t":14.95,"v":0.003},
{"t":15.05,"v":0.008},{"t":15.15,"v":0.002},{"t":15.25,"v":0.006},{"t":15.35,"v":0.002},{"t":15.45,"v":0.004},{"t":15.55,"v":0.001},{"t":15.65,"v":0.004},{"t":15.75,"v":0.001},{"t":15.85,"v":0.003},{"t":15.95,"v":0.001},
{"t":16.05,"v":0.004},{"t":16.15,"v":0.001},{"t":16.25,"v":0.003},{"t":16.35,"v":0.001},{"t":16.45,"v":0.002},{"t":16.55,"v":0.001},{"t":16.65,"v":0.003},{"t":16.75,"v":0.001},{"t":16.85,"v":0.002},{"t":16.95,"v":0.001},
{"t":17.05,"v":0.001},{"t":17.15,"v":0.002},{"t":17.25,"v":0.001},{"t":17.35,"v":0.003},{"t":17.45,"v":0.001},{"t":17.55,"v":0.004},{"t":17.65,"v":0.001},{"t":17.75,"v":0.003},{"t":17.85,"v":0.001},{"t":17.95,"v":0.002},
{"t":18.05,"v":0.002},{"t":18.15,"v":0.004},{"t":18.25,"v":0.002},{"t":18.35,"v":0.006},{"t":18.45,"v":0.002},{"t":18.55,"v":0.012},{"t":18.65,"v":0.003},{"t":18.75,"v":0.004},{"t":18.85,"v":0.008},{"t":18.95,"v":0.003},
{"t":19.05,"v":0.018},{"t":19.15,"v":0.002},{"t":19.25,"v":0.02},{"t":19.35,"v":0.004},{"t":19.45,"v":0.006},{"t":19.55,"v":0.002},{"t":19.65,"v":0.005},{"t":19.75,"v":0.003},{"t":19.85,"v":0.004},{"t":19.95,"v":0.003},
{"t":20.05,"v":0.015},{"t":20.15,"v":0.003},{"t":20.25,"v":0.02},{"t":20.35,"v":0.006},{"t":20.45,"v":0.015},{"t":20.55,"v":0.004},{"t":20.65,"v":0.02},{"t":20.75,"v":0.004},{"t":20.85,"v":0.002},{"t":20.95,"v":0.01},
{"t":21.05,"v":0.004},{"t":21.15,"v":0.012},{"t":21.25,"v":0.004},{"t":21.35,"v":0.02},{"t":21.45,"v":0.003},{"t":21.55,"v":0.015},{"t":21.65,"v":0.004},{"t":21.75,"v":0.01},{"t":21.85,"v":0.015},{"t":21.95,"v":0.005},
{"t":22.05,"v":0.012},{"t":22.15,"v":0.004},{"t":22.25,"v":0.02},{"t":22.35,"v":0.006},{"t":22.45,"v":0.012},{"t":22.55,"v":0.035},{"t":22.65,"v":0.03},{"t":22.75,"v":0.006},{"t":22.85,"v":0.004},{"t":22.95,"v":0.015},
{"t":23.05,"v":0.005},{"t":23.15,"v":0.012},{"t":23.25,"v":0.02},{"t":23.35,"v":0.004},{"t":23.45,"v":0.015},{"t":23.55,"v":0.03},{"t":23.65,"v":0.02},{"t":23.75,"v":0.006},{"t":23.85,"v":0.012},{"t":23.95,"v":0.025},
{"t":24.05,"v":0.005},{"t":24.15,"v":0.018},{"t":24.25,"v":0.006},{"t":24.35,"v":0.02},{"t":24.45,"v":0.005},{"t":24.55,"v":0.025},{"t":24.65,"v":0.01},{"t":24.75,"v":0.003},{"t":24.85,"v":0.018},{"t":24.95,"v":0.008},
{"t":25.05,"v":0.004},{"t":25.15,"v":0.015},{"t":25.25,"v":0.005},{"t":25.35,"v":0.015},{"t":25.45,"v":0.003},{"t":25.55,"v":0.012},{"t":25.65,"v":0.008},{"t":25.75,"v":0.004},{"t":25.85,"v":0.012},{"t":25.95,"v":0.005},
{"t":26.05,"v":0.008},{"t":26.15,"v":0.003},{"t":26.25,"v":0.012},{"t":26.35,"v":0.004},{"t":26.45,"v":0.008},{"t":26.55,"v":0.012},{"t":26.65,"v":0.02},{"t":26.75,"v":0.004},{"t":26.85,"v":0.008},{"t":26.95,"v":0.005},
{"t":27.05,"v":0.003},{"t":27.15,"v":0.012},{"t":27.25,"v":0.004},{"t":27.35,"v":0.008},{"t":27.45,"v":0.002},{"t":27.55,"v":0.007},{"t":27.65,"v":0.003},{"t":27.75,"v":0.01},{"t":27.85,"v":0.003},{"t":27.95,"v":0.005},
{"t":28.05,"v":0.002},{"t":28.15,"v":0.008},{"t":28.25,"v":0.003},{"t":28.35,"v":0.005},{"t":28.45,"v":0.002},{"t":28.55,"v":0.006},{"t":28.65,"v":0.01},{"t":28.75,"v":0.002},{"t":28.85,"v":0.005},{"t":28.95,"v":0.008},
{"t":29.05,"v":0.003},{"t":29.15,"v":0.006},{"t":29.25,"v":0.002},{"t":29.35,"v":0.005},{"t":29.45,"v":0.001},{"t":29.55,"v":0.001},{"t":29.65,"v":0.001},{"t":29.75,"v":0.001},{"t":29.85,"v":0.001},{"t":29.95,"v":0.001}
  ],
  "histA": [
{"lo":0,"hi":0.075,"n":0},
{"lo":0.075,"hi":0.0945,"n":22},{"lo":0.0945,"hi":0.114,"n":58},{"lo":0.114,"hi":0.1335,"n":41},{"lo":0.1335,"hi":0.153,"n":16},{"lo":0.153,"hi":0.1725,"n":18},
{"lo":0.1725,"hi":0.192,"n":17},{"lo":0.192,"hi":0.2115,"n":14},{"lo":0.2115,"hi":0.231,"n":13},{"lo":0.231,"hi":0.2505,"n":13},{"lo":0.2505,"hi":0.27,"n":28},
{"lo":0.27,"hi":0.2895,"n":24},{"lo":0.2895,"hi":0.309,"n":53},{"lo":0.309,"hi":0.3285,"n":68},{"lo":0.3285,"hi":0.348,"n":90},{"lo":0.348,"hi":0.3675,"n":146},
{"lo":0.3675,"hi":0.387,"n":210},{"lo":0.387,"hi":0.4065,"n":250},{"lo":0.4065,"hi":0.426,"n":313},{"lo":0.426,"hi":0.4455,"n":327},{"lo":0.4455,"hi":0.465,"n":365},
{"lo":0.465,"hi":0.4845,"n":389},{"lo":0.4845,"hi":0.504,"n":322},{"lo":0.504,"hi":0.5235,"n":235},{"lo":0.5235,"hi":0.543,"n":154},{"lo":0.543,"hi":0.5625,"n":101},
{"lo":0.5625,"hi":0.582,"n":90},{"lo":0.582,"hi":0.6015,"n":71},{"lo":0.6015,"hi":0.621,"n":54},{"lo":0.621,"hi":0.6405,"n":48},{"lo":0.6405,"hi":0.66,"n":29},
{"lo":0.66,"hi":0.6795,"n":18},{"lo":0.6795,"hi":0.699,"n":12},{"lo":0.699,"hi":0.7185,"n":12},{"lo":0.7185,"hi":0.738,"n":16},
{"lo":0.738,"hi":0.8,"n":0},{"lo":0.8,"hi":0.8,"n":0}
  ],
  "histB": [
{"lo":0,"hi":0.001525,"n":1325},{"lo":0.001525,"hi":0.00305,"n":785},{"lo":0.00305,"hi":0.004575,"n":445},{"lo":0.004575,"hi":0.0061,"n":228},{"lo":0.0061,"hi":0.007625,"n":128},
{"lo":0.007625,"hi":0.00915,"n":92},{"lo":0.00915,"hi":0.010675,"n":62},{"lo":0.010675,"hi":0.0122,"n":55},{"lo":0.0122,"hi":0.013725,"n":40},{"lo":0.013725,"hi":0.01525,"n":48},
{"lo":0.01525,"hi":0.016775,"n":40},{"lo":0.016775,"hi":0.0183,"n":32},{"lo":0.0183,"hi":0.019825,"n":24},{"lo":0.019825,"hi":0.02135,"n":30},{"lo":0.02135,"hi":0.022875,"n":26},
{"lo":0.022875,"hi":0.0244,"n":18},{"lo":0.0244,"hi":0.025925,"n":12},{"lo":0.025925,"hi":0.02745,"n":10},{"lo":0.02745,"hi":0.028975,"n":9},{"lo":0.028975,"hi":0.0305,"n":11},
{"lo":0.0305,"hi":0.032025,"n":9},{"lo":0.032025,"hi":0.03355,"n":7},{"lo":0.03355,"hi":0.035075,"n":8},{"lo":0.035075,"hi":0.0366,"n":7},{"lo":0.0366,"hi":0.038125,"n":12},
{"lo":0.038125,"hi":0.03965,"n":10},{"lo":0.03965,"hi":0.041175,"n":14},{"lo":0.041175,"hi":0.0427,"n":9},{"lo":0.0427,"hi":0.044225,"n":10},{"lo":0.044225,"hi":0.04575,"n":66},
{"lo":0.04575,"hi":0.05,"n":0},{"lo":0.05,"hi":0.05,"n":0}
  ],
  "errA": [{"lo":0.32,"hi":0.58,"m":0.447,"y":427}],
  "errB": [{"lo":0.0002,"hi":0.0152,"m":0.0056,"y":1450}],
  "starB": [{"x":0.045,"y":66,"s":"*"}]
},
"spacing": 16,
"vconcat": [
 {"spacing": 22, "hconcat": [
  {"width": 250, "height": 145,
   "title": {"text": "(a)", "orient": "left", "angle": 0, "anchor": "middle", "align": "right", "baseline": "middle", "font": "DejaVu Sans", "fontSize": 13.5, "fontWeight": "normal", "color": "#262626", "offset": -9},
   "data": {"name": "tsA"},
   "mark": {"type": "line", "color": "black", "strokeWidth": 0.9},
   "encoding": {
     "x": {"field": "t", "type": "quantitative", "scale": {"domain": [0, 30], "nice": false}, "axis": {"title": "Time (second)", "values": [0,5,10,15,20,25,30], "format": "~f"}},
     "y": {"field": "v", "type": "quantitative", "scale": {"domain": [0, 0.8], "nice": false}, "axis": {"title": "L1 norm", "values": [0,0.2,0.4,0.6,0.8], "format": "~f"}}
   }
  },
  {"width": 250, "height": 145,
   "layer": [
    {"data": {"name": "histA"}, "mark": {"type": "bar", "orient": "vertical", "fill": "#b3b3b3", "stroke": "#c4c4c4", "strokeWidth": 0.5},
     "encoding": {
       "x": {"field": "lo", "type": "quantitative", "scale": {"domain": [0, 0.8], "nice": false}, "axis": {"title": "L1 norm", "values": [0,0.2,0.4,0.6,0.8], "format": "~f"}},
       "x2": {"field": "hi"},
       "y": {"field": "n", "type": "quantitative", "scale": {"domain": [0, 467], "nice": false}, "axis": {"title": "Number of frames", "values": [0,100,200,300,400], "format": "~f"}},
       "y2": {"datum": 0}
     }},
    {"data": {"name": "histA"}, "mark": {"type": "line", "interpolate": "step-after", "color": "black", "strokeWidth": 2},
     "encoding": {"x": {"field": "lo", "type": "quantitative"}, "y": {"field": "n", "type": "quantitative"}}},
    {"data": {"name": "errA"}, "mark": {"type": "rule", "color": "black", "strokeWidth": 1.5},
     "encoding": {"x": {"field": "lo", "type": "quantitative"}, "x2": {"field": "hi"}, "y": {"field": "y", "type": "quantitative"}}},
    {"data": {"name": "errA"}, "mark": {"type": "tick", "orient": "vertical", "color": "black", "thickness": 1.5, "size": 8},
     "encoding": {"x": {"field": "lo", "type": "quantitative"}, "y": {"field": "y", "type": "quantitative"}}},
    {"data": {"name": "errA"}, "mark": {"type": "tick", "orient": "vertical", "color": "black", "thickness": 1.5, "size": 8},
     "encoding": {"x": {"field": "hi", "type": "quantitative"}, "y": {"field": "y", "type": "quantitative"}}},
    {"data": {"name": "errA"}, "mark": {"type": "point", "filled": true, "fill": "#b3b3b3", "stroke": "black", "strokeWidth": 1.5, "size": 60, "opacity": 1},
     "encoding": {"x": {"field": "m", "type": "quantitative"}, "y": {"field": "y", "type": "quantitative"}}}
   ]
  }
 ]},
 {"spacing": 22, "hconcat": [
  {"width": 250, "height": 145,
   "title": {"text": "(b)", "orient": "left", "angle": 0, "anchor": "middle", "align": "right", "baseline": "middle", "font": "DejaVu Sans", "fontSize": 13.5, "fontWeight": "normal", "color": "#262626", "offset": -12},
   "data": {"name": "tsB"},
   "mark": {"type": "line", "color": "black", "strokeWidth": 0.9},
   "encoding": {
     "x": {"field": "t", "type": "quantitative", "scale": {"domain": [0, 30], "nice": false}, "axis": {"title": "Time (second)", "values": [0,5,10,15,20,25,30], "format": "~f"}},
     "y": {"field": "v", "type": "quantitative", "scale": {"domain": [0, 0.1], "nice": false}, "axis": {"title": "L1 norm", "values": [0,0.02,0.04,0.06,0.08,0.1], "format": "~f"}}
   }
  },
  {"width": 250, "height": 145,
   "layer": [
    {"data": {"name": "histB"}, "mark": {"type": "bar", "orient": "vertical", "fill": "#b3b3b3", "stroke": "#c4c4c4", "strokeWidth": 0.5},
     "encoding": {
       "x": {"field": "lo", "type": "quantitative", "scale": {"domain": [0, 0.05], "nice": false}, "axis": {"title": "L1 norm", "values": [0,0.01,0.02,0.03,0.04,0.05], "format": "~f"}},
       "x2": {"field": "hi"},
       "y": {"field": "n", "type": "quantitative", "scale": {"domain": [0, 1590], "nice": false}, "axis": {"title": "Number of frames", "values": [0,500,1000,1500], "format": "~f"}},
       "y2": {"datum": 0}
     }},
    {"data": {"name": "histB"}, "mark": {"type": "line", "interpolate": "step-after", "color": "black", "strokeWidth": 2},
     "encoding": {"x": {"field": "lo", "type": "quantitative"}, "y": {"field": "n", "type": "quantitative"}}},
    {"data": {"name": "errB"}, "mark": {"type": "rule", "color": "black", "strokeWidth": 1.5},
     "encoding": {"x": {"field": "lo", "type": "quantitative"}, "x2": {"field": "hi"}, "y": {"field": "y", "type": "quantitative"}}},
    {"data": {"name": "errB"}, "mark": {"type": "tick", "orient": "vertical", "color": "black", "thickness": 1.5, "size": 8},
     "encoding": {"x": {"field": "lo", "type": "quantitative"}, "y": {"field": "y", "type": "quantitative"}}},
    {"data": {"name": "errB"}, "mark": {"type": "tick", "orient": "vertical", "color": "black", "thickness": 1.5, "size": 8},
     "encoding": {"x": {"field": "hi", "type": "quantitative"}, "y": {"field": "y", "type": "quantitative"}}},
    {"data": {"name": "errB"}, "mark": {"type": "point", "filled": true, "fill": "#b3b3b3", "stroke": "black", "strokeWidth": 1.5, "size": 60, "opacity": 1},
     "encoding": {"x": {"field": "m", "type": "quantitative"}, "y": {"field": "y", "type": "quantitative"}}},
    {"data": {"name": "starB"}, "mark": {"type": "text", "font": "Liberation Sans", "fontSize": 9, "color": "#262626", "baseline": "alphabetic", "dy": 2},
     "encoding": {"x": {"field": "x", "type": "quantitative"}, "y": {"field": "y", "type": "quantitative"}, "text": {"field": "s"}}}
   ]
  }
 ]}
]
}
